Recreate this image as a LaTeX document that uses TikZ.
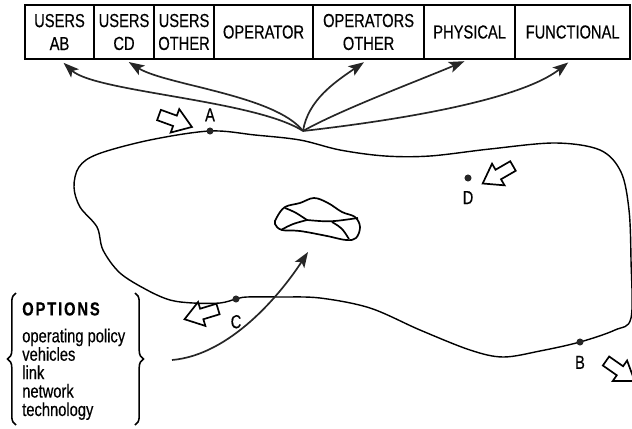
\documentclass[tikz,border=0pt]{standalone}
\usepackage{fontspec}
\setmainfont{Liberation Sans}[FakeStretch=0.78, FakeBold=0.4]
\usetikzlibrary{arrows.meta,positioning,decorations.pathreplacing}

\begin{document}
\begin{tikzpicture}[x=0.025cm, y=-0.025cm,
  hdr/.style={draw, line width=1.1pt, minimum height=1.35cm, inner sep=0pt, outer sep=0pt, align=center, font=\fontsize{13.4}{16.3}\selectfont},
  dot/.style={circle, fill=black!85, inner sep=0pt, minimum size=5pt},
  lbl/.style={font=\fontsize{13.4}{14}\selectfont, inner sep=1pt},
  feed/.style={line width=1.2pt, black!85, -{Stealth[length=11pt,width=8pt,inset=2.5pt]}, shorten >=4pt},
  fatarrow/.pic={\draw[line width=1.2pt, fill=white] (0,-5.5) -- (17,-5.5) -- (17,-12.5) -- (35,0) -- (17,12.5) -- (17,5.5) -- (0,5.5) -- cycle;}]

\useasboundingbox (0,0) rectangle (632,428);
\clip (0,0) rectangle (632,428);

\node[hdr, minimum width=1.725cm, anchor=north west] (ab) at (25,5) {USERS\\AB};
\node[hdr, minimum width=1.5cm, right=0pt of ab] (cd) {USERS\\CD};
\node[hdr, minimum width=1.5cm, right=0pt of cd] (uoth) {USERS\\OTHER};
\node[hdr, minimum width=2.475cm, right=0pt of uoth] (oper) {OPERATOR};
\node[hdr, minimum width=2.775cm, right=0pt of oper] (ooth) {OPERATORS\\OTHER};
\node[hdr, minimum width=2.275cm, right=0pt of ooth] (phys) {PHYSICAL};
\node[hdr, minimum width=2.875cm, right=0pt of phys] (func) {FUNCTIONAL};

\draw [line width=1pt] plot[smooth cycle, tension=0.55] coordinates {
  (210,131) (255,135) (300,140) (340,150) (385,156) (430,156) (490,149) (555,143)
  (600,150) (621,172) (629,210) (631,260) (631,318) (615,330) (580,342) (540,351)
  (503,357) (470,350) (420,330) (370,308) (320,298) (280,297) (247,297) (236,299)
  (220,303) (193,303) (170,300) (147,290) (120,273) (103,250) (97,227) (80,207)
  (74,187) (79,167) (98,154) (150,140)};

\draw [line width=1.2pt] plot[smooth cycle, tension=0.6] coordinates {
  (277,217) (285,207) (300,203) (314,198) (328,203) (342,212) (355,217) (360,227)
  (356,238) (346,240) (327,236) (300,231) (282,230) (275,224)};
\draw [line width=1.2pt] (285,208) .. controls (295,212) .. (307,220) .. controls (330,222) .. (358,218);
\draw [line width=1.2pt] (281,230) .. controls (292,224) .. (307,220);
\draw [line width=1.2pt] (332,222) .. controls (342,228) .. (349,239);

\node[dot, label={[lbl, label distance=3pt]above:A}] (ptA) at (210,131) {};
\node[dot, label={[lbl, label distance=6pt]below:B}] (ptB) at (580,342) {};
\node[dot, label={[lbl, label distance=7.5pt]below:C}] (ptC) at (236,299) {};
\node[dot, label={[lbl, label distance=5.4pt]below:D}] (ptD) at (468,178) {};

\pic[rotate=-20] at (159,115) {fatarrow};
\pic[rotate=210] at (513,166) {fatarrow};
\pic[rotate=197] at (218,309) {fatarrow};
\pic[rotate=-35] at (606,361) {fatarrow};

\coordinate (hub) at (303,131);
\draw[feed] (hub) .. controls (255,100) and (95,92) .. (ab.south);
\draw[feed] (hub) .. controls (275,95) and (165,85) .. (cd.south);
\draw[feed] (hub) .. controls (308,100) and (335,82) .. (ooth.south);
\draw[feed] (hub) .. controls (340,110) and (420,80) .. (phys.south);
\draw[feed] (hub) .. controls (400,120) and (520,100) .. (func.south);

\node[anchor=north west, inner sep=0pt, align=left, font=\fontsize{13.4}{13.1}\selectfont] (opts) at (22,302)
  {{\bfseries\addfontfeature{LetterSpace=10}OPTIONS}\\[6pt] operating policy\\ vehicles\\ link\\ network\\ technology};
\draw[line width=1.1pt, decorate, decoration={brace, amplitude=6pt}] (16,425) -- (16,293);
\draw[line width=1.1pt, decorate, decoration={brace, amplitude=6pt}] (135,293) -- (135,425);

\coordinate (optsrc) at (172,360);
\coordinate (lake) at (308,252);
\draw[feed, shorten >=0pt] (optsrc) .. controls (230,355) and (280,295) .. (lake);

\end{tikzpicture}
\end{document}
